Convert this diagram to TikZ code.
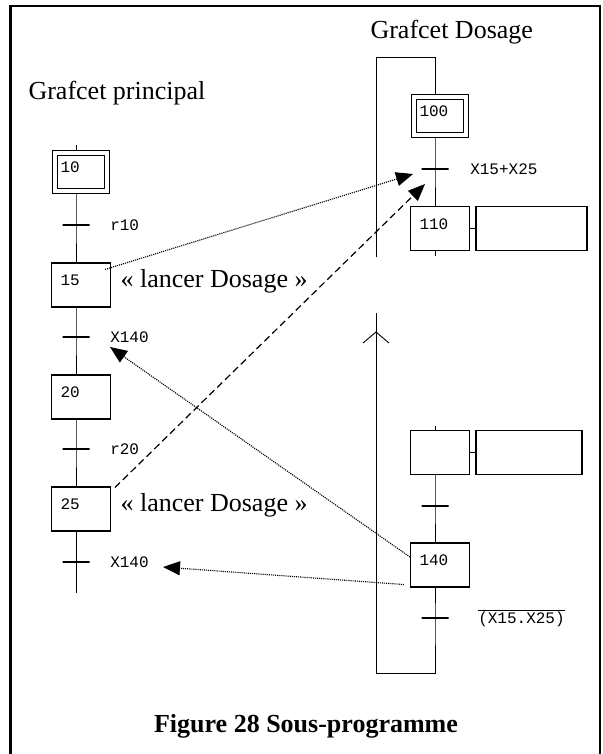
\documentclass[tikz,border=0pt]{standalone}
\usepackage{fontspec}
\setmainfont{Liberation Serif}
\newfontfamily\monofont{Liberation Mono}
\usetikzlibrary{arrows.meta,calc,positioning}
\newcommand{\grand}{\fontsize{26}{30}\selectfont}
\newcommand{\petit}{\monofont\fontsize{16}{18}\selectfont}

\begin{document}
\begin{tikzpicture}[x=1pt,y=-1pt,
    etape/.style={draw,line width=1.1pt,fill=white,minimum width=59pt,
      minimum height=44pt,text width=41pt,inner xsep=9pt,align=left,
      text depth=9pt,font=\petit},
    etapeinit/.style={etape,double,double distance=4.6pt,line width=1pt,
      outer sep=3.3pt,minimum width=52pt,minimum height=38pt,
      text width=41pt,inner xsep=5.5pt},
    action/.style={draw,line width=1.1pt,minimum height=44pt},
    trans/.style={draw,line width=1.1pt,minimum width=27pt,
      minimum height=0pt,inner sep=0pt},
    recept/.style={inner sep=0pt,font=\petit},
    lien/.style={line width=0.9pt},
    renvoi/.style={line width=1.1pt,dash pattern=on 1.1pt off 1pt,
      -{Triangle[length=17pt,width=14pt]}},
    renvoitir/.style={line width=1.2pt,dash pattern=on 7pt off 4pt,
      -{Triangle[length=17pt,width=14pt]}}
  ]
  \useasboundingbox (0,0) rectangle (602,754);
  \draw[line width=2.5pt] (10.5,754) -- (10.5,6) -- (600,6) -- (600,754);

  \node[anchor=west,font=\grand] (titreG) at (25,93) {Grafcet principal};
  \node[anchor=west,font=\grand] (titreD) at (367,32) {Grafcet Dosage};

  % grafcet principal
  \coordinate (hautG) at (76,145);
  \coordinate (basG) at (76,593);
  \node[etapeinit] (e10) at (81,172) {10};
  \node[trans] (t10) at (76,225) {};
  \node[etape] (e15) at (81,285) {15};
  \node[trans] (t15) at (76,337) {};
  \node[etape] (e20) at (81,397) {20};
  \node[trans] (t20) at (76,449) {};
  \node[etape] (e25) at (81,509) {25};
  \node[trans] (t25) at (76,562) {};
  \draw[lien] (hautG) -- (e10.north -| hautG);
  \foreach \a/\t/\b in {e10/t10/e15,e15/t15/e20,e20/t20/e25}
    \draw[lien] (\a.south -| \t) -- (\t.center) -- (\b.north -| \t);
  \draw[lien] (e25.south -| t25) -- (basG);
  \node[recept,right=20pt of t10] (r10) {r10};
  \node[recept,right=20pt of t15] (r15) {X140};
  \node[recept,right=20pt of t20] (r20) {r20};
  \node[recept,right=20pt of t25] (r25) {X140};
  \node[right=6pt of e15,yshift=4pt,font=\grand] (ordre15) {« lancer Dosage »};
  \node[right=6pt of e25,yshift=4pt,font=\grand] (ordre25) {« lancer Dosage »};

  % grafcet dosage
  \coordinate (hautD) at (435,57);
  \coordinate (boucleHG) at (376,57);
  \coordinate (boucleG1) at (376,257);
  \coordinate (finD1) at (435,256);
  \coordinate (debD2) at (435,426);
  \coordinate (basD) at (435,673);
  \coordinate (boucleBG) at (376,673);
  \coordinate (boucleG2) at (376,313);
  \coordinate (fleche) at (376,332);
  \node[etapeinit] (e100) at (440,116) {100};
  \node[trans] (t100) at (435,169) {};
  \node[etape] (e110) at (440,228.5) {110};
  \node[action,minimum width=111pt] (a110) at (531.5,228.5) {};
  \node[etape] (eX) at (440,452.5) {};
  \node[action,minimum width=106pt] (aX) at (529,452.5) {};
  \node[trans] (tX) at (435,506) {};
  \node[etape] (e140) at (440,565) {140};
  \node[trans] (t140) at (435,618) {};
  \draw[lien] (boucleG1) -- (boucleHG) -- (hautD) -- (e100.north -| hautD);
  \draw[lien] (e100.south -| t100) -- (t100.center) -- (e110.north -| t100);
  \draw[lien] (e110.south -| t100) -- (finD1);
  \draw[lien] (e110.east) -- (a110.west);
  \draw[lien] (debD2) -- (eX.north -| debD2);
  \draw[lien] (eX.east) -- (aX.west);
  \draw[lien] (eX.south -| tX) -- (tX.center) -- (e140.north -| tX);
  \draw[lien] (e140.south -| t140) -- (t140.center) -- (basD) -- (boucleBG)
    -- (boucleG2);
  \draw[lien] ($(fleche)+(-13,11)$) -- (fleche) -- ($(fleche)+(13,11)$);
  \node[recept,right=21pt of t100] (r100) {X15+X25};
  \node[recept,right=29pt of t140] (r140)
    {$\overline{\hbox{\petit(X15.X25)}}$};

  % renvois
  \draw[renvoi] ($(e15.north east)+(-6,7)$) -- ($(t100)+(-22,5)$);
  \draw[renvoitir] ($(e25.north east)+(4,1)$) -- ($(t100)+(-10,15)$);
  \draw[renvoi] ($(e140.west)+(0,-8)$) -- ($(t15)+(34,10)$);
  \draw[renvoi] ($(e140.south west)+(-6,-3)$) -- ($(t25)+(87,5)$);

  \node[font=\grand\bfseries] (legende) at (306,726) {Figure 28 Sous-programme};
\end{tikzpicture}
\end{document}
